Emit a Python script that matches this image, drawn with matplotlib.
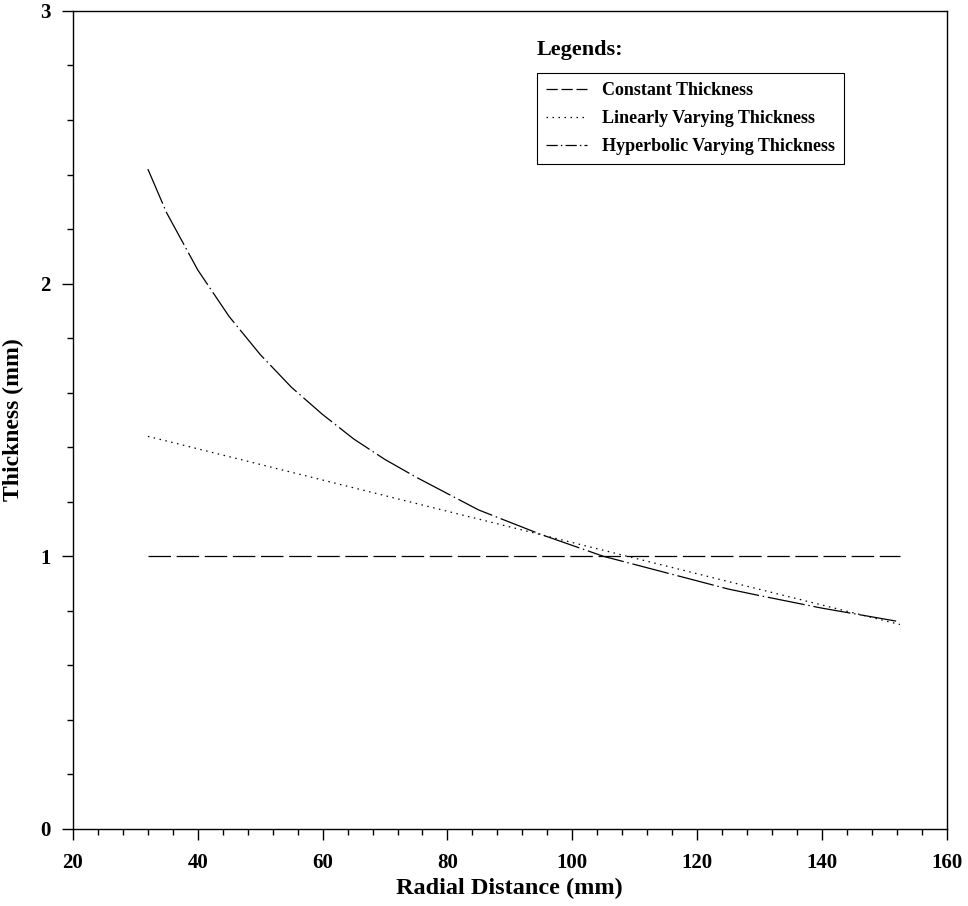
import matplotlib
matplotlib.use('Agg')
import matplotlib.pyplot as plt
from matplotlib.ticker import MultipleLocator

plt.rcParams['font.family'] = ['Liberation Serif', 'DejaVu Serif']
plt.rcParams['font.weight'] = 'bold'

# Radial positions (mm) and thickness values (mm)
r_const = [32, 152.5]
t_const = [1.0, 1.0]

r_lin = [32, 152.5]
t_lin = [1.44, 0.75]

r_hyp = [32, 35, 40, 45, 50, 55, 60, 65, 70, 75, 80, 85, 90, 95, 100,
         105, 110, 115, 120, 125, 130, 135, 140, 145, 150, 152.5]
t_hyp = [2.42, 2.26, 2.05, 1.88, 1.74, 1.62, 1.52, 1.43, 1.355, 1.29, 1.23,
         1.17, 1.125, 1.08, 1.04, 1.00, 0.97, 0.94, 0.91, 0.88, 0.856, 0.833,
         0.81, 0.79, 0.77, 0.76]

labels = ['Constant Thickness', 'Linearly Varying Thickness',
          'Hyperbolic Varying Thickness']

fig = plt.figure(figsize=(9.68, 9.06), dpi=100)
ax = fig.add_axes([0.0754, 0.085, 0.9026, 0.9029])

lw = 0.9
ax.plot(r_const, t_const, color='black', lw=lw, dashes=(18, 4.5), label=labels[0])
ax.plot(r_lin, t_lin, color='black', lw=lw, dashes=(1.2, 3.6), label=labels[1])
ax.plot(r_hyp, t_hyp, color='black', lw=lw, dashes=(30, 3, 1.2, 3), label=labels[2])

ax.set_xlim(20, 160)
ax.set_ylim(0, 3)
ax.xaxis.set_major_locator(MultipleLocator(20))
ax.xaxis.set_minor_locator(MultipleLocator(4))
ax.yaxis.set_major_locator(MultipleLocator(1))
ax.yaxis.set_minor_locator(MultipleLocator(0.2))

ax.tick_params(which='both', direction='out', top=False, right=False,
               labelsize=15, width=1)
ax.tick_params(axis='x', which='major', length=8, pad=9)
ax.tick_params(axis='y', which='major', length=8, pad=8)
ax.tick_params(which='minor', length=4)
for s in ax.spines.values():
    s.set_linewidth(1)

ax.set_xlabel('Radial Distance (mm)', fontsize=17.5, fontweight='bold', labelpad=4)
ax.set_ylabel('Thickness (mm)', fontsize=17, fontweight='bold', labelpad=12)

ax.text(0.531, 0.94, 'Legends:', transform=ax.transAxes, fontsize=16,
        fontweight='bold', va='bottom', ha='left')
leg = ax.legend(loc='upper left', bbox_to_anchor=(0.531, 0.924), borderaxespad=0,
                fancybox=False, edgecolor='black', framealpha=1,
                prop={'size': 13, 'weight': 'bold'}, handlelength=2.3,
                handletextpad=0.8, labelspacing=0.6, borderpad=0.5)
leg.get_frame().set_linewidth(0.8)
# shorter dash patterns so the handles show the style
hl = leg.get_lines()
hl[0].set_dashes((9, 3))
hl[2].set_dashes((9, 2.5, 1.2, 2.5))

fig.savefig('out.png', dpi=100)
